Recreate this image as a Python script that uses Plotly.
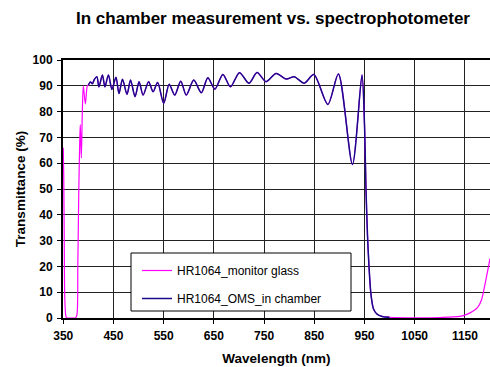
import plotly.graph_objects as go

# Pink: HR1064_monitor glass (spectrophotometer)
pink_wl_start = [350, 351, 352, 353, 355, 357, 365, 374, 377, 379, 381, 383, 384, 386, 388, 390, 394, 398]
pink_t_start = [66, 55, 30, 8, 1, 0, 0, 0, 1, 20, 50, 70, 75, 62, 80, 90, 83, 90]

# Shared region (both curves overlap)
mid_wl = [400, 404, 408, 412, 417, 421, 428, 433, 440, 447, 455, 461, 468, 477, 484, 493, 501,
          509, 520, 529, 538, 550, 561, 572, 584, 595, 610, 625, 638, 652, 668, 683, 701, 720,
          736, 754, 774, 794, 810, 830, 849, 877, 898, 926, 945, 950, 953, 956, 959, 963, 968,
          975, 985, 1000]
mid_t = [90.3, 91.5, 90.8, 92.5, 93.5, 89.6, 94.2, 89.6, 94.2, 88.6, 93.3, 87, 92.5, 86.7, 92.2,
         85.8, 91.6, 86.4, 91.6, 87.7, 91.3, 83.2, 90.6, 86.4, 91.8, 86.4, 92.2, 87.3, 93.1, 88.7,
         94.4, 89.6, 95.1, 91, 95.2, 91.6, 94.8, 92.6, 93.5, 91, 94.4, 82.8, 94.6, 59.5, 94.2, 75,
         50, 32, 20, 9, 3.5, 1.5, 0.6, 0.3]

pink_wl_end = [1050, 1100, 1140, 1155, 1165, 1175, 1183, 1190, 1195, 1200]
pink_t_end = [0.1, 0.2, 0.6, 1.5, 2.5, 4, 7, 13, 18, 23]

pink_wl = pink_wl_start + mid_wl + pink_wl_end
pink_t = pink_t_start + mid_t + pink_t_end

blue_wl = mid_wl
blue_t = mid_t

x_ticks = [350, 450, 550, 650, 750, 850, 950, 1050, 1150]
y_ticks = list(range(0, 101, 10))

FONT = "Liberation Sans, Arial, sans-serif"

fig = go.Figure()
fig.add_trace(go.Scatter(x=pink_wl, y=pink_t, mode="lines", name="HR1064_monitor glass",
                         line=dict(color="#FF00FF", width=1.2, shape="spline", smoothing=0.8),
                         legendgroup="a"))
fig.add_trace(go.Scatter(x=blue_wl, y=blue_t, mode="lines", name="HR1064_OMS_in chamber",
                         line=dict(color="#1A0A8A", width=1.5, shape="spline", smoothing=0.8),
                         legendgroup="b"))

W, H = 490, 367
L, R, T, B = 63, 0, 60, 49
pw = W - L - R
ph = H - T - B

def px(xp):
    return (xp - L) / pw

def py(yp):
    return 1 - (yp - T) / ph

fig.update_layout(
    width=W, height=H,
    margin=dict(l=L, r=R, t=T, b=B),
    paper_bgcolor="white", plot_bgcolor="white",
    font=dict(family=FONT, color="black"),
    title=dict(text="<b>In chamber measurement vs. spectrophotometer</b>",
               x=273 / W, xref="container", xanchor="center", y=1 - 18 / H, yanchor="middle",
               font=dict(size=17, family=FONT, color="black")),
    showlegend=True,
    legend=dict(x=px(137), y=py(256), xanchor="left", yanchor="top",
                bgcolor="rgba(0,0,0,0)", borderwidth=0,
                font=dict(size=12, family=FONT, color="black"),
                tracegroupgap=9, itemwidth=30),
    shapes=[dict(type="rect", xref="paper", yref="paper",
                 x0=px(131), x1=px(351), y0=py(311), y1=py(253),
                 line=dict(color="black", width=1), fillcolor="white", layer="above")],
)

fig.update_xaxes(
    range=[349.5, 1200], tickvals=x_ticks, ticktext=[str(v) for v in x_ticks],
    showgrid=True, gridcolor="#222", gridwidth=1,
    showline=True, linecolor="black", linewidth=2, mirror=True,
    ticks="outside", ticklen=4, tickcolor="black", tickwidth=1,
    tickfont=dict(size=12, family=FONT, color="black", weight="bold"),
    ticklabelstandoff=2,
    title=dict(text="<b>Wavelength (nm)</b>", font=dict(size=13.5, family=FONT, color="black"),
               standoff=11),
    zeroline=False,
)
fig.update_yaxes(
    range=[0, 100], tickvals=y_ticks, ticktext=[str(v) for v in y_ticks],
    showgrid=True, gridcolor="#222", gridwidth=1,
    showline=True, linecolor="black", linewidth=2,
    ticks="outside", ticklen=4, tickcolor="black", tickwidth=1,
    tickfont=dict(size=12, family=FONT, color="black", weight="bold"),
    ticklabelstandoff=2,
    title=dict(text="<b>Transmittance (%)</b>", font=dict(size=13.5, family=FONT, color="black"),
               standoff=4),
    zeroline=False,
)

fig.write_html("out.html")
